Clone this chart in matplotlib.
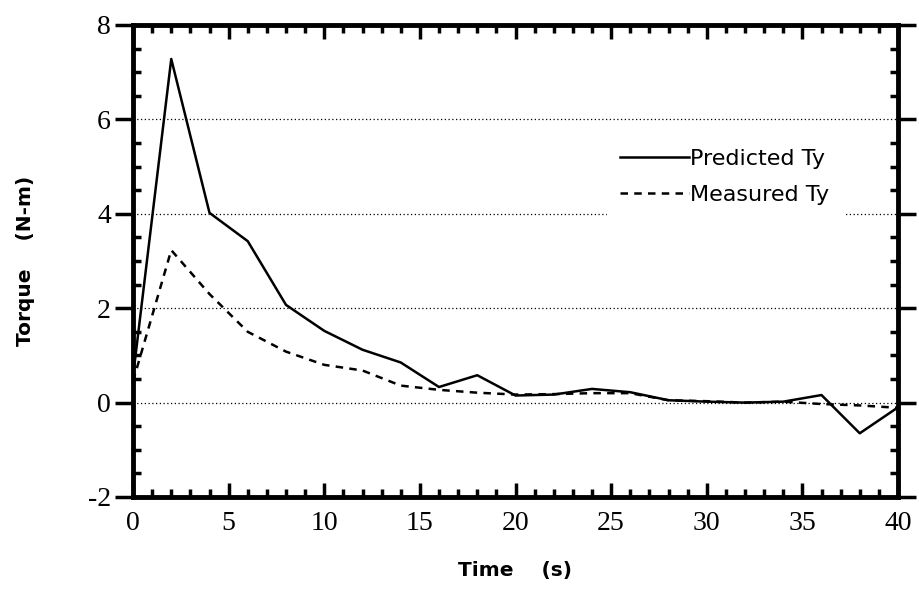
import numpy as np
import matplotlib.pyplot as plt
from matplotlib.ticker import MultipleLocator

plt.rcParams['axes.unicode_minus'] = False

time_s = [0, 2, 4, 6, 8, 10, 12, 14, 16, 18, 20, 22, 24, 26, 28, 30, 32, 34, 36, 38, 40]
predicted_ty = [0.55, 7.28, 4.02, 3.42, 2.07, 1.52, 1.12, 0.85, 0.33, 0.58, 0.15,
                0.17, 0.29, 0.22, 0.05, 0.02, 0.0, 0.02, 0.16, -0.65, -0.1]
measured_ty = [0.45, 3.23, 2.3, 1.5, 1.08, 0.8, 0.68, 0.36, 0.27, 0.21, 0.17,
               0.18, 0.2, 0.2, 0.05, 0.03, 0.0, 0.02, -0.03, -0.06, -0.11]
grid_levels = [0, 2, 4, 6]

fig = plt.figure(figsize=(9.19, 5.89), dpi=100)
ax = fig.add_axes([133 / 919, 92 / 589, 765 / 919, 472 / 589])

for g in grid_levels:
    ax.axhline(g, color='black', linestyle=(0, (1, 2)), linewidth=0.9, zorder=1)

ax.plot(time_s, predicted_ty, color='black', linewidth=1.8, label='Predicted Ty', zorder=3)
ax.plot(time_s, measured_ty, color='black', linewidth=1.8, linestyle=(0, (3, 2.5)),
        label='Measured Ty', zorder=3)

ax.set_xlim(0, 40)
ax.set_ylim(-2, 8)

for side in ax.spines.values():
    side.set_linewidth(3.5)

ax.xaxis.set_major_locator(MultipleLocator(5))
ax.xaxis.set_minor_locator(MultipleLocator(1))
ax.yaxis.set_major_locator(MultipleLocator(2))
ax.yaxis.set_minor_locator(MultipleLocator(0.5))

ax.tick_params(axis='x', which='major', direction='in', length=10, width=2.5,
               top=True, bottom=True, pad=10)
ax.tick_params(axis='x', which='minor', direction='in', length=6, width=2.5,
               top=True, bottom=True)
ax.tick_params(axis='y', which='major', direction='out', length=13, width=2.5,
               left=True, right=True, pad=3)
ax.tick_params(axis='y', which='minor', direction='in', length=6, width=2.5,
               left=True, right=True)

for lbl in ax.get_xticklabels() + ax.get_yticklabels():
    lbl.set_fontfamily('Liberation Serif')
    lbl.set_fontsize(20)

ax.set_xlabel('Time    (s)', fontfamily='DejaVu Sans', fontweight='bold',
              fontsize=14.5, labelpad=18)
ax.set_ylabel('Torque    (N-m)', fontfamily='DejaVu Sans', fontweight='bold',
              fontsize=14.5, labelpad=38)

leg = ax.legend(loc='upper left', bbox_to_anchor=(0.605, 0.79), frameon=True,
                fancybox=False, framealpha=1, edgecolor='white', facecolor='white',
                handlelength=3.1, handletextpad=0.05, labelspacing=0.75,
                borderpad=0.6, prop={'family': 'DejaVu Sans', 'size': 16})
leg.set_zorder(2)

fig.savefig('out.png', dpi=100)
